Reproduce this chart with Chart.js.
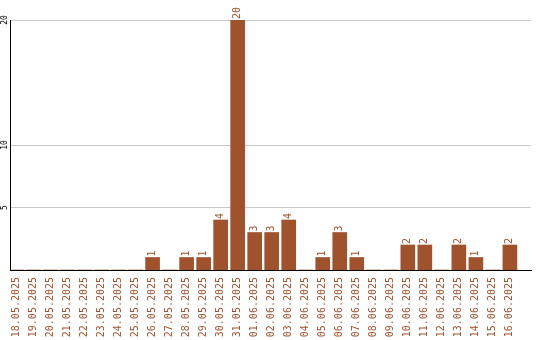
<!DOCTYPE html>
<html>
<head>
<meta charset="utf-8">
<script src="https://cdn.jsdelivr.net/npm/chart.js@4/dist/chart.umd.min.js"></script>
<style>
html,body{margin:0;padding:0;background:#fff;}
#wrap{width:540px;height:340px;}
</style>
</head>
<body>
<div id="wrap"><canvas id="c" width="540" height="340"></canvas></div>
<script>
const dates = ["18.05.2025","19.05.2025","20.05.2025","21.05.2025","22.05.2025","23.05.2025","24.05.2025","25.05.2025","26.05.2025","27.05.2025","28.05.2025","29.05.2025","30.05.2025","31.05.2025","01.06.2025","02.06.2025","03.06.2025","04.06.2025","05.06.2025","06.06.2025","07.06.2025","08.06.2025","09.06.2025","10.06.2025","11.06.2025","12.06.2025","13.06.2025","14.06.2025","15.06.2025","16.06.2025"];
const counts = [0,0,0,0,0,0,0,0,1,0,1,1,4,20,3,3,4,0,1,3,1,0,0,2,2,0,2,1,0,2];
const yTicks = [5,10,20];

const BROWN = '#a0522d';
const FONT = 'DejaVu Sans Mono';

const valueLabels = {
  id: 'valueLabels',
  afterDatasetsDraw(chart) {
    const ctx = chart.ctx;
    const meta = chart.getDatasetMeta(0);
    ctx.save();
    ctx.fillStyle = BROWN;
    ctx.font = '10px "' + FONT + '"';
    ctx.textAlign = 'left';
    ctx.textBaseline = 'middle';
    meta.data.forEach((bar, i) => {
      const v = counts[i];
      if (!v) return;
      ctx.save();
      ctx.translate(bar.x, bar.y - 1);
      ctx.rotate(-Math.PI / 2);
      ctx.fillText(String(v), 0, 0);
      ctx.restore();
    });
    ctx.restore();
  }
};

const yLabels = {
  id: 'yLabels',
  afterDraw(chart) {
    const ctx = chart.ctx;
    const ys = chart.scales.y;
    ctx.save();
    ctx.fillStyle = '#000';
    ctx.font = '8px "' + FONT + '"';
    ctx.textAlign = 'center';
    ctx.textBaseline = 'middle';
    yTicks.forEach(t => {
      const py = ys.getPixelForValue(t);
      ctx.save();
      ctx.translate(5, py);
      ctx.rotate(-Math.PI / 2);
      ctx.fillText(String(t), 0, 0);
      ctx.restore();
    });
    ctx.restore();
  }
};

new Chart(document.getElementById('c'), {
  type: 'bar',
  data: {
    datasets: [{
      data: counts.map((v, i) => ({ x: i, y: v })),
      backgroundColor: BROWN,
      borderWidth: 0,
      barThickness: 14
    }]
  },
  options: {
    responsive: false,
    animation: false,
    layout: { autoPadding: false, padding: { top: 20, right: 9, left: 0, bottom: 0 } },
    plugins: { legend: { display: false }, tooltip: { enabled: false } },
    scales: {
      x: {
        type: 'linear',
        offset: false,
        min: -0.38,
        max: 30.24,
        afterBuildTicks(scale) { scale.ticks = dates.map((d, i) => ({ value: i })); },
        afterFit(scale) { scale.height = 70; },
        grid: { display: false, drawTicks: false },
        border: { color: '#000', width: 1 },
        ticks: {
          autoSkip: false,
          minRotation: 90,
          maxRotation: 90,
          padding: 7,
          color: BROWN,
          font: { family: FONT, size: 10 },
          callback: (v) => dates[v]
        }
      },
      y: {
        min: 0,
        max: 20,
        afterBuildTicks(scale) { scale.ticks = yTicks.map(v => ({ value: v })); },
        afterFit(scale) { scale.width = 10; },
        grid: { color: '#c8c8c8', drawTicks: false },
        border: { color: '#000', width: 1 },
        ticks: { display: false }
      }
    }
  },
  plugins: [valueLabels, yLabels]
});
</script>
</body>
</html>
